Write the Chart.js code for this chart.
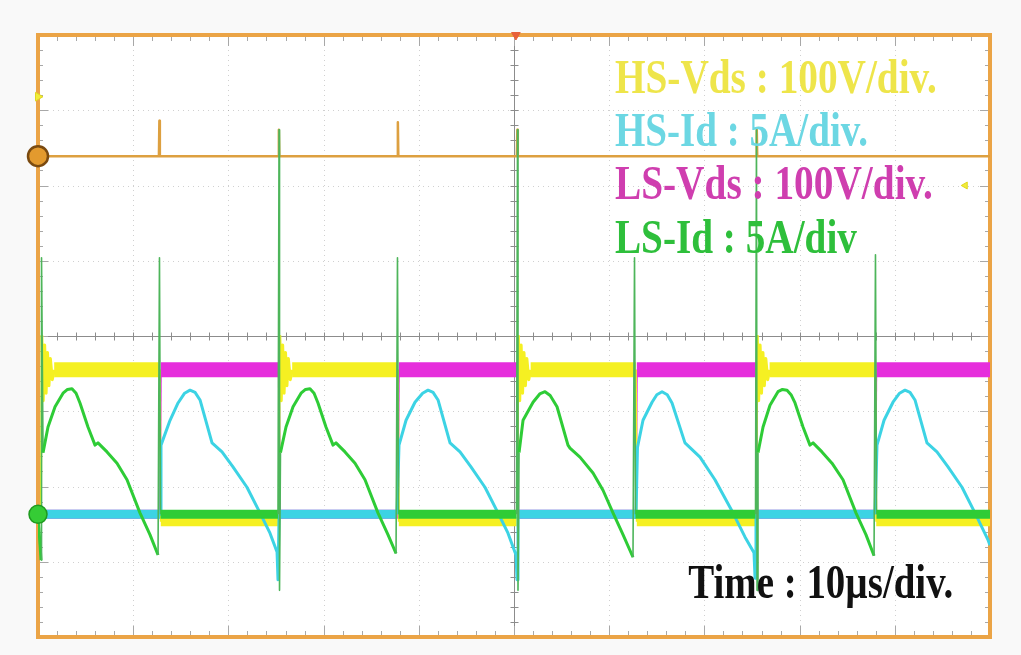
<!DOCTYPE html>
<html><head><meta charset="utf-8">
<script src="https://cdn.jsdelivr.net/npm/chart.js@4.4.0/dist/chart.umd.min.js"></script>
<style>
html,body{margin:0;padding:0;background:#f9f9f9;}
#wrap{width:1021px;height:655px;position:relative;}
</style>
</head><body>
<div id="wrap"><canvas id="c"></canvas></div>
<script>
// ---- Data (time in µs, amplitude in divisions) ----
const timeRange = [0, 100];       // 10 µs/div, 10 divisions
const ampRange = [-4, 4];         // 8 divisions

// LS-Id (green)
const lsIdT = [0, 0.32, 0.37, 0.53, 1.05, 1.79, 2.63, 3.10, 3.57, 4.00, 4.41, 5.25, 5.99, 6.30, 7.25, 8.30, 9.35, 10.71, 11.76, 12.61, 12.76, 12.87,
  25.21, 25.32, 25.37, 25.47, 26.05, 26.79, 27.63, 28.10, 28.57, 29.00, 29.41, 30.25, 30.99, 31.30, 32.25, 33.30, 34.35, 35.71, 36.76, 37.61, 37.76, 37.87,
  50.26, 50.37, 50.42, 50.53, 50.95, 52.00, 52.70, 53.26, 53.80, 54.52, 55.67, 55.88, 56.93, 58.30, 59.35, 60.40, 61.45, 62.50, 62.66, 62.76,
  75.37, 75.47, 75.53, 75.63, 76.16, 76.89, 77.73, 78.20, 78.68, 79.10, 79.52, 80.36, 81.09, 81.41, 82.35, 83.40, 84.56, 85.92, 86.97, 87.82, 87.97, 88.08, 100];
const lsIdV = [-2.37, -2.98, 1.04, -1.55, -1.21, -0.94, -0.76, -0.71, -0.70, -0.76, -0.89, -1.21, -1.45, -1.42, -1.54, -1.69, -1.91, -2.35, -2.64, -2.91, 1.04, -2.37,
  -2.37, 2.74, -3.38, -1.55, -1.21, -0.94, -0.76, -0.71, -0.70, -0.76, -0.89, -1.21, -1.45, -1.42, -1.54, -1.69, -1.91, -2.35, -2.64, -2.89, 1.04, -2.37,
  -2.37, 2.74, -3.38, -1.55, -1.12, -0.88, -0.77, -0.74, -0.79, -0.94, -1.45, -1.49, -1.61, -1.82, -2.05, -2.35, -2.64, -2.94, 1.04, -2.37,
  -2.37, 2.74, -3.38, -1.55, -1.21, -0.92, -0.74, -0.71, -0.72, -0.78, -0.89, -1.21, -1.45, -1.42, -1.54, -1.69, -1.91, -2.35, -2.64, -2.92, 1.08, -2.37, -2.37];

// HS-Id (cyan)
const hsIdT = [0, 12.82, 12.92, 13.87, 14.71, 15.40, 15.97, 16.50, 17.02, 18.28, 19.33, 20.48, 21.95, 23.32, 24.37, 25.11, 25.21, 25.32,
  37.71, 37.92, 38.66, 39.60, 40.40, 40.97, 41.50, 42.02, 43.28, 44.33, 45.48, 46.95, 48.32, 49.37, 50.21, 50.32, 50.42,
  62.82, 62.97, 63.55, 64.50, 65.00, 65.55, 66.10, 66.60, 67.96, 69.54, 71.11, 73.00, 74.26, 75.21, 75.32, 75.42,
  87.92, 88.13, 88.87, 89.81, 90.50, 91.07, 91.60, 92.12, 93.38, 94.43, 95.59, 97.06, 98.42, 99.79, 100];
const hsIdV = [-2.37, -2.37, -1.45, -1.12, -0.89, -0.76, -0.72, -0.75, -0.85, -1.42, -1.54, -1.74, -2.01, -2.35, -2.62, -2.87, -3.24, -2.37,
  -2.37, -1.45, -1.12, -0.88, -0.76, -0.72, -0.75, -0.85, -1.42, -1.54, -1.74, -2.01, -2.35, -2.62, -2.91, -3.24, -2.37,
  -2.37, -1.48, -1.12, -0.88, -0.78, -0.74, -0.78, -0.89, -1.42, -1.61, -1.91, -2.35, -2.67, -2.88, -3.22, -2.37,
  -2.37, -1.45, -1.12, -0.88, -0.76, -0.72, -0.75, -0.85, -1.42, -1.54, -1.74, -2.01, -2.35, -2.71, -2.78];

// HS-Vds (yellow), with turn-on ringing
const hsVdsT = [0, 0.30, 0.40, 0.55, 0.70, 0.85, 1.00, 1.15, 1.30, 1.50, 1.70, 12.80, 12.90,
  25.30, 25.40, 25.55, 25.70, 25.85, 26.00, 26.15, 26.30, 26.50, 26.70, 37.80, 37.90,
  50.35, 50.45, 50.60, 50.75, 50.90, 51.05, 51.20, 51.35, 51.55, 51.75, 62.80, 62.90,
  75.45, 75.55, 75.70, 75.85, 76.00, 76.15, 76.30, 76.45, 76.65, 76.85, 87.95, 88.05, 100];
const hsVdsV = [-2.47, -2.47, 0.01, -0.86, -0.12, -0.76, -0.22, -0.66, -0.30, -0.58, -0.45, -0.45, -2.47,
  -2.47, 0.01, -0.86, -0.12, -0.76, -0.22, -0.66, -0.30, -0.58, -0.45, -0.45, -2.47,
  -2.47, 0.01, -0.86, -0.12, -0.76, -0.22, -0.66, -0.30, -0.58, -0.45, -0.45, -2.47,
  -2.47, 0.01, -0.86, -0.12, -0.76, -0.22, -0.66, -0.30, -0.58, -0.45, -0.45, -2.47, -2.47];

// LS-Vds (magenta)
const lsVdsT = [0, 12.80, 12.90, 25.30, 25.40, 37.80, 37.90, 50.35, 50.45, 62.80, 62.90, 75.45, 75.55, 87.95, 88.05, 100];
const lsVdsV = [-2.37, -2.37, -0.45, -0.45, -2.37, -2.37, -0.45, -0.45, -2.37, -2.37, -0.45, -0.45, -2.37, -2.37, -0.45, -0.45];

// Orange reference trace
const refT = [0, 12.70, 12.75, 12.80, 25.25, 25.30, 25.35, 37.75, 37.80, 37.85, 50.30, 50.35, 50.40, 75.45, 75.50, 75.55, 100];
const refV = [2.39, 2.39, 2.86, 2.39, 2.39, 2.74, 2.39, 2.39, 2.84, 2.39, 2.39, 2.74, 2.39, 2.39, 2.74, 2.39, 2.39];

// Channel / trigger markers
const markerT = [0, 0, 0, 97.4, 50.2];
const markerV = [2.39, -2.37, 3.18, 2.0, 4.0];

// Text
const legendLabels = ['HS-Vds : 100V/div.', 'HS-Id : 5A/div.', 'LS-Vds : 100V/div.', 'LS-Id : 5A/div'];
const timeLabel = 'Time : 10\u00b5s/div.';

// ---- Build ----
const pts = (t, v) => t.map((x, i) => ({x: x, y: v[i]}));

function segWidth(thickHigh, thickLow, thin, spike) {
  return ctx => {
    const a = ctx.p0.parsed, b = ctx.p1.parsed;
    const dx = Math.abs(b.x - a.x);
    if (Math.abs(a.y - b.y) < 1e-6 && dx > 0.5) return a.y > -1.5 ? thickHigh : thickLow;
    if (dx < 0.2 && Math.abs(b.y - a.y) > 1.2) return spike;
    return thin;
  };
}

const graticule = {
  id: 'graticule',
  beforeDatasetsDraw(chart) {
    const ctx = chart.ctx, xs = chart.scales.x, ys = chart.scales.y, a = chart.chartArea;
    ctx.save();
    ctx.fillStyle = '#ffffff';
    ctx.fillRect(a.left, a.top, a.right - a.left, a.bottom - a.top);
    ctx.strokeStyle = 'rgba(120,120,120,0.35)';
    ctx.lineWidth = 1;
    ctx.setLineDash([1, 4]);
    for (let i = 1; i < 10; i++) {
      if (i === 5) continue;
      const x = Math.round(xs.getPixelForValue(i * 10)) + 0.5;
      ctx.beginPath(); ctx.moveTo(x, a.top); ctx.lineTo(x, a.bottom); ctx.stroke();
    }
    for (let j = -3; j <= 3; j++) {
      if (j === 0) continue;
      const y = Math.round(ys.getPixelForValue(j)) + 0.5;
      ctx.beginPath(); ctx.moveTo(a.left, y); ctx.lineTo(a.right, y); ctx.stroke();
    }
    ctx.setLineDash([]);
    const cx = Math.round(xs.getPixelForValue(50)) + 0.5;
    const cy = Math.round(ys.getPixelForValue(0)) + 0.5;
    ctx.strokeStyle = '#8c8c8c';
    ctx.beginPath(); ctx.moveTo(a.left, cy); ctx.lineTo(a.right, cy); ctx.stroke();
    ctx.beginPath(); ctx.moveTo(cx, a.top); ctx.lineTo(cx, a.bottom); ctx.stroke();
    for (let k = 0; k <= 50; k++) {
      const x = Math.round(xs.getPixelForValue(k * 2)) + 0.5;
      ctx.strokeStyle = '#8c8c8c';
      ctx.beginPath(); ctx.moveTo(x, cy - 4); ctx.lineTo(x, cy + 4); ctx.stroke();
      const len = (k % 5 === 0) ? 11 : 6;
      ctx.strokeStyle = '#a8a8a8';
      ctx.beginPath(); ctx.moveTo(x, a.top); ctx.lineTo(x, a.top + len); ctx.stroke();
      ctx.beginPath(); ctx.moveTo(x, a.bottom); ctx.lineTo(x, a.bottom - len); ctx.stroke();
    }
    for (let k = 0; k <= 40; k++) {
      const y = Math.round(ys.getPixelForValue(-4 + k * 0.2)) + 0.5;
      ctx.strokeStyle = '#8c8c8c';
      ctx.beginPath(); ctx.moveTo(cx - 4, y); ctx.lineTo(cx + 4, y); ctx.stroke();
      const len = (k % 5 === 0) ? 10 : 5;
      ctx.strokeStyle = '#a8a8a8';
      ctx.beginPath(); ctx.moveTo(a.left, y); ctx.lineTo(a.left + len, y); ctx.stroke();
      ctx.beginPath(); ctx.moveTo(a.right, y); ctx.lineTo(a.right - len, y); ctx.stroke();
    }
    ctx.strokeStyle = '#EBA446';
    ctx.lineWidth = 4;
    ctx.strokeRect(a.left, a.top, a.right - a.left, a.bottom - a.top);
    ctx.restore();
  },
  afterDraw(chart) {
    const ctx = chart.ctx, xs = chart.scales.x, ys = chart.scales.y;
    const colors = ['#EEE54A', '#6CD7E3', '#CF3EAF', '#2EBF3B'];
    const widths = [322, 253, 318, 242];
    const baselines = [3.23, 2.52, 1.82, 1.10];
    ctx.save();
    ctx.font = 'bold 38px "Liberation Serif", "Times New Roman", serif';
    ctx.textBaseline = 'alphabetic';
    const drawText = (txt, xv, yv, w, col) => {
      const m = ctx.measureText(txt).width;
      ctx.save();
      ctx.translate(xs.getPixelForValue(xv), ys.getPixelForValue(yv));
      ctx.scale(w / m, 1.28);
      ctx.fillStyle = col;
      ctx.fillText(txt, 0, 0);
      ctx.restore();
    };
    legendLabels.forEach((t, i) => drawText(t, 60.6, baselines[i], widths[i], colors[i]));
    drawText(timeLabel, 68.3, -3.48, 265, '#111111');
    ctx.restore();
  }
};

new Chart(document.getElementById('c'), {
  type: 'line',
  data: {
    datasets: [
      {
        type: 'scatter', label: 'markers', data: pts(markerT, markerV), clip: false,
        pointStyle: ['circle', 'circle', 'triangle', 'triangle', 'triangle'],
        pointRotation: [0, 0, 90, -90, 180],
        pointRadius: [10, 9, 5, 4, 5],
        pointBackgroundColor: ['#E39A2E', '#35CC35', '#F2EC3A', '#F2EC3A', '#E8603A'],
        pointBorderColor: ['#7A4A10', '#1F9A1F', '#E0D820', '#E0D820', '#E8603A'],
        pointBorderWidth: [2.5, 1.5, 1, 1, 1],
        showLine: false
      },
      {
        label: 'LS-Id', data: pts(lsIdT, lsIdV), borderColor: '#2ECC36', pointRadius: 0,
        borderWidth: 3,
        segment: {borderWidth: segWidth(9, 9, 3, 1.6), borderColor: c => (Math.abs(c.p1.parsed.x - c.p0.parsed.x) < 0.2 ? '#4DB55A' : undefined)}
      },
      {
        label: 'HS-Id', data: pts(hsIdT, hsIdV), borderColor: '#3CD3E4', pointRadius: 0,
        borderWidth: 3,
        segment: {borderWidth: segWidth(9, 9, 3, 1.6)}
      },
      {
        label: 'HS-Vds', data: pts(hsVdsT, hsVdsV), borderColor: '#F5F022', pointRadius: 0,
        borderWidth: 3, segment: {borderWidth: segWidth(15, 9, 3, 2)}
      },
      {
        label: 'LS-Vds', data: pts(lsVdsT, lsVdsV), borderColor: '#E62EDC', pointRadius: 0,
        borderWidth: 2, segment: {borderWidth: segWidth(15, 9, 2, 2)}
      },
      {
        label: 'ref', data: pts(refT, refV), borderColor: '#DDA040', pointRadius: 0,
        borderWidth: 2.5
      }
    ]
  },
  options: {
    responsive: true,
    maintainAspectRatio: false,
    animation: false,
    layout: {padding: {left: 38, top: 35, right: 31, bottom: 18}},
    plugins: {legend: {display: false}, tooltip: {enabled: false}},
    elements: {line: {tension: 0, borderCapStyle: 'butt', borderJoinStyle: 'round'}},
    scales: {
      x: {type: 'linear', min: timeRange[0], max: timeRange[1], display: false},
      y: {type: 'linear', min: ampRange[0], max: ampRange[1], display: false}
    }
  },
  plugins: [graticule]
});
</script>
</body></html>
